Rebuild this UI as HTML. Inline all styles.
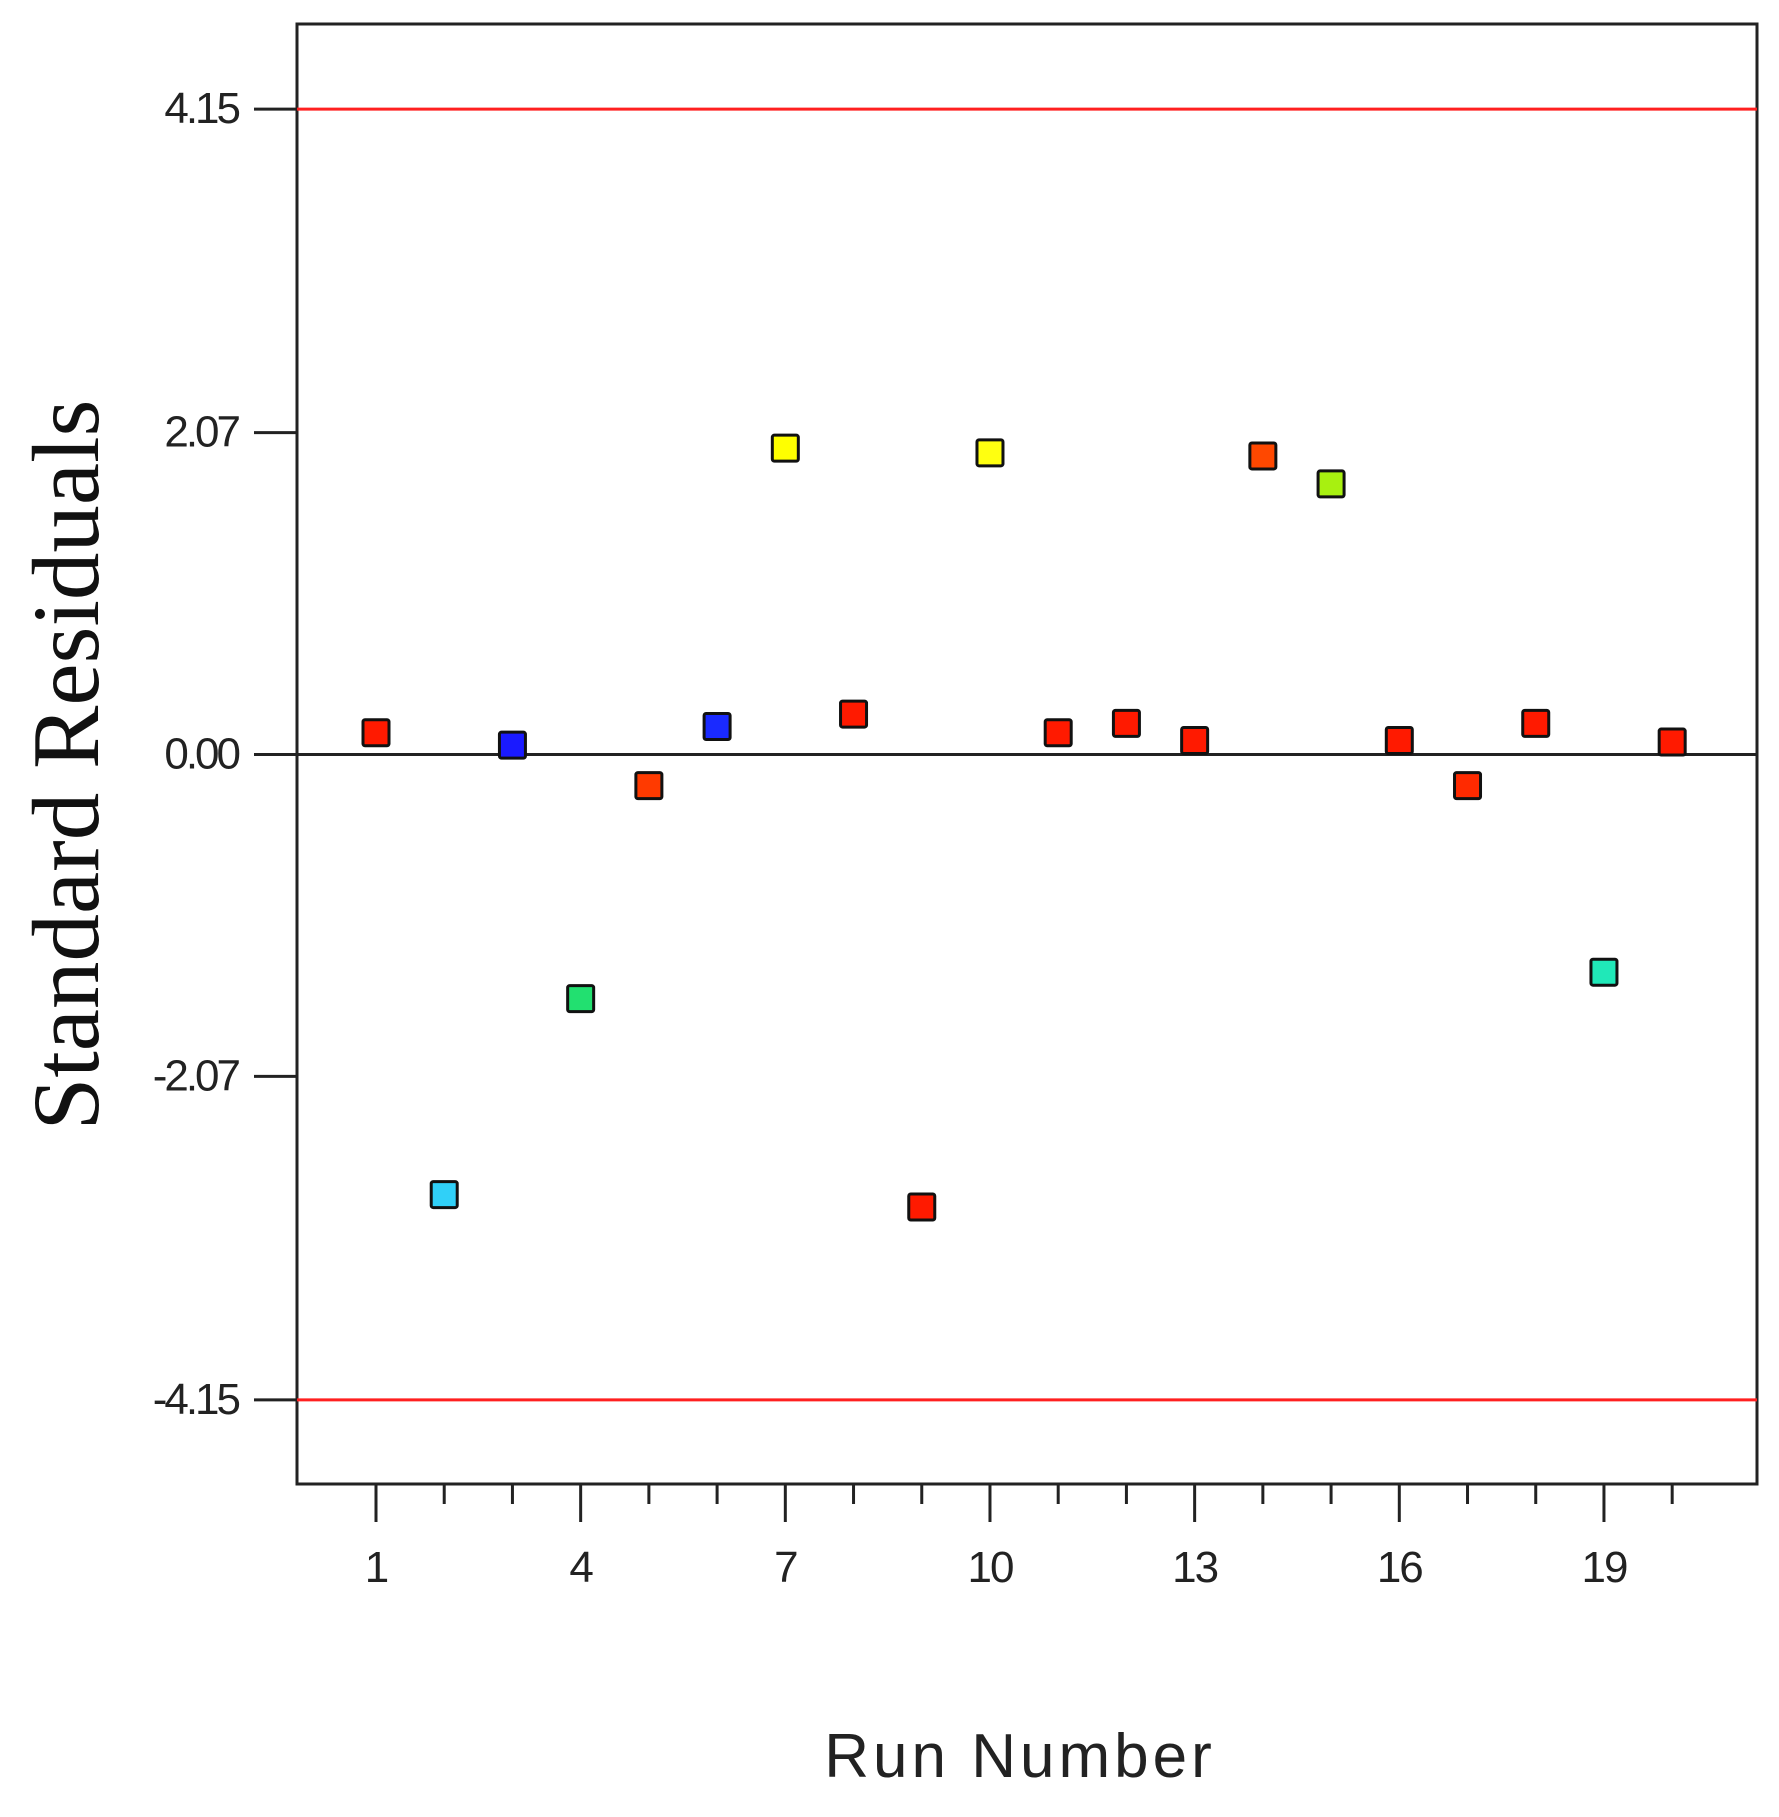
<!DOCTYPE html>
<html><head><meta charset="utf-8"><style>
html,body{margin:0;padding:0;background:#fff;}
svg{display:block;}
</style></head><body>
<svg id="chart" width="1779" height="1817" viewBox="0 0 1779 1817" xmlns="http://www.w3.org/2000/svg">
<g id="axes"></g>
<g id="marks"></g>
</svg>
<script>
const runs = [1,2,3,4,5,6,7,8,9,10,11,12,13,14,15,16,17,18,19,20];
const residuals = [0.14,-2.83,0.06,-1.57,-0.2,0.18,1.97,0.26,-2.91,1.94,0.14,0.2,0.09,1.92,1.74,0.09,-0.2,0.2,-1.40,0.08];
const colors = ["#ff1a00","#30d0f8","#1a1aff","#22e070","#ff3a00","#1a2aff","#ffff00","#ff1a00","#ff1a00","#ffff10","#ff1a00","#ff1a00","#ff1a00","#ff4800","#a8f010","#ff1a00","#ff2a00","#ff1a00","#20e8b8","#ff1a00"];
const yTicks = [4.15,2.07,0.00,-2.07,-4.15];
const yTickLabels = ["4.15","2.07","0.00","-2.07","-4.15"];
const xMajor = [1,4,7,10,13,16,19];
const limit = 4.15;

const NS="http://www.w3.org/2000/svg";
const L=297,R=1757,T=24,B=1484;
function xs(v){return 376+(v-1)*68.22;}
function ys(v){return 754.5-v*155.5;}
const axes=document.getElementById('axes'), marks=document.getElementById('marks');
function mk(tag,attrs,parent,text){const e=document.createElementNS(NS,tag);for(const k in attrs)e.setAttribute(k,attrs[k]);if(text!==undefined)e.textContent=text;parent.appendChild(e);return e;}

let e;
e=mk('rect',{x:L,y:T,width:R-L,height:B-T,fill:'none',stroke:'#222','stroke-width':3},axes);


e=mk('line',{x1:L,x2:R,y1:ys(limit),y2:ys(limit),stroke:'#ff2020','stroke-width':3},axes);


e=mk('line',{x1:L,x2:R,y1:ys(-limit),y2:ys(-limit),stroke:'#ff2020','stroke-width':3},axes);


e=mk('line',{x1:L,x2:R,y1:ys(0),y2:ys(0),stroke:'#222','stroke-width':3},axes);



yTicks.forEach((v,i)=>{
  let t=mk('line',{x1:254,x2:L,y1:ys(v),y2:ys(v),stroke:'#222','stroke-width':3},axes);
  
  
  let lb=mk('text',{x:238,y:ys(v)+14,'text-anchor':'end','font-family':'Liberation Sans, sans-serif','font-size':44,'letter-spacing':-3,fill:'#222'},axes,yTickLabels[i]);
  
  
});
runs.forEach(r=>{
  const major=xMajor.includes(r);
  let t=mk('line',{x1:xs(r),x2:xs(r),y1:B,y2:major?1522:1504,stroke:'#222','stroke-width':3},axes);
  
  
});
xMajor.forEach(v=>{
  let lb=mk('text',{x:xs(v),y:1582,'text-anchor':'middle','font-family':'Liberation Sans, sans-serif','font-size':44,'letter-spacing':-2,fill:'#222'},axes,String(v));
  
  
});
e=mk('text',{x:1020,y:1777,'text-anchor':'middle','font-family':'Liberation Sans, sans-serif','font-size':62,'letter-spacing':4,fill:'#222'},axes,'Run Number');


e=mk('text',{x:0,y:0,transform:'translate(98,765) rotate(-90)','text-anchor':'middle','font-family':'Liberation Serif, serif','font-size':95,fill:'#111'},axes,'Standard Residuals');



runs.forEach((r,i)=>{
  let p=mk('rect',{x:xs(r)-13,y:ys(residuals[i])-13,width:26,height:26,rx:2,fill:colors[i],stroke:'#111','stroke-width':3},marks);
  
  
});
</script>
</body></html>
